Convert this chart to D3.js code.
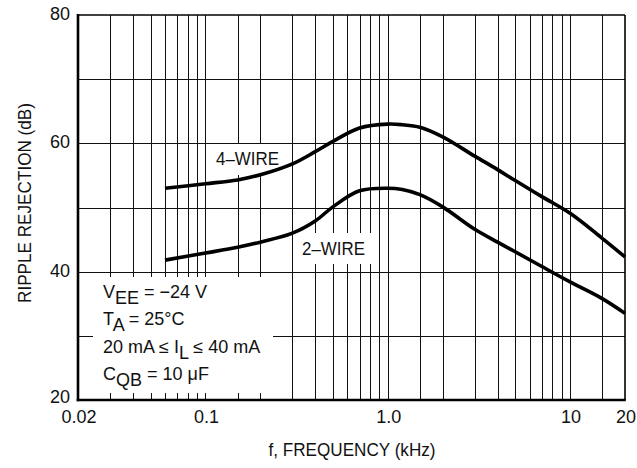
<html>
<head>
  <meta charset="utf-8">
  <style type="text/css">
    body { margin: 0; background: #fff; }
    text { font-family: "Liberation Sans", Arial, sans-serif; font-size: 18px; fill: #111; }
    .grid line { stroke: #111; stroke-width: 1; shape-rendering: crispEdges; }
    .curve { fill: none; stroke: #000; stroke-width: 3.6; }
  </style>
</head>
<body>
<script src="https://d3js.org/d3.v7.min.js"></script>
<script>
  // data
  var freqs4 = [0.06, 0.1, 0.15, 0.2, 0.3, 0.4, 0.5, 0.7, 1.0, 1.2, 1.5, 2, 3, 4, 5, 7, 10, 15, 20];
  var wire4  = [53.0, 53.7, 54.3, 55.1, 56.8, 58.7, 60.3, 62.4, 63.0, 62.9, 62.5, 61.0, 58.0, 55.9, 54.2, 51.7, 49.1, 45.2, 42.3];
  var freqs2 = [0.06, 0.1, 0.15, 0.2, 0.3, 0.4, 0.5, 0.7, 1.0, 1.2, 1.5, 2, 3, 4, 5, 7, 10, 15, 20];
  var wire2  = [41.8, 42.9, 43.8, 44.6, 46.0, 47.9, 50.1, 52.6, 53.0, 52.8, 52.0, 50.1, 46.6, 44.6, 43.1, 40.8, 38.4, 35.8, 33.5];

  var xGrid = [0.03, 0.04, 0.05, 0.06, 0.07, 0.08, 0.09, 0.1, 0.15, 0.2, 0.3, 0.4, 0.5, 0.6, 0.7, 0.8, 0.9,
               1, 1.5, 2, 3, 4, 5, 6, 7, 8, 9, 10, 15];
  var xTicks = [0.02, 0.1, 1, 10, 20];
  var xTickLabels = ["0.02", "0.1", "1.0", "10", "20"];
  var yGrid = [30, 40, 50, 60, 70];
  var yTicks = [20, 40, 60, 80];

  var margin = { top: 15, right: 12, bottom: 68, left: 78 }
    , width = 637 - margin.left - margin.right
    , height = 468 - margin.top - margin.bottom;

  var xScale = d3.scaleLog().domain([0.02, 20]).range([0, width]);
  var yScale = d3.scaleLinear().domain([20, 80]).range([height, 0]);

  var svg = d3.select("body").append("svg")
    .attr("width", 637)
    .attr("height", 468)
    .append("g")
    .attr("transform", "translate(" + margin.left + "," + margin.top + ")");

  // grid
  var grid = svg.append("g").attr("class", "grid");
  grid.selectAll(".vx").data(xGrid).enter().append("line")
    .attr("x1", function (d) { return Math.round(xScale(d)) + 0.5; })
    .attr("x2", function (d) { return Math.round(xScale(d)) + 0.5; })
    .attr("y1", 0).attr("y2", height);
  grid.selectAll(".hy").data(yGrid).enter().append("line")
    .attr("x1", 0).attr("x2", width)
    .attr("y1", function (d) { return Math.round(yScale(d)) + 0.5; })
    .attr("y2", function (d) { return Math.round(yScale(d)) + 0.5; });

  // white label boxes that hide the grid
  svg.append("rect").attr("x", 130).attr("y", 129).attr("width", 82).attr("height", 31).attr("fill", "#fff");
  svg.append("rect").attr("x", 219).attr("y", 218).attr("width", 75).attr("height", 31).attr("fill", "#fff");
  svg.append("rect").attr("x", 15).attr("y", 262).attr("width", 180).attr("height", 116).attr("fill", "#fff");

  // frame
  svg.append("line").attr("x1", 0).attr("x2", width).attr("y1", 0).attr("y2", 0)
    .attr("stroke", "#000").attr("stroke-width", 1.6);
  svg.append("line").attr("x1", width).attr("x2", width).attr("y1", 0).attr("y2", height)
    .attr("stroke", "#000").attr("stroke-width", 1.6);
  svg.append("line").attr("x1", 0).attr("x2", 0).attr("y1", -1).attr("y2", height + 1.3)
    .attr("stroke", "#000").attr("stroke-width", 2.6);
  svg.append("line").attr("x1", -1.3).attr("x2", width + 0.8).attr("y1", height).attr("y2", height)
    .attr("stroke", "#000").attr("stroke-width", 2.6);

  // curves
  var line = d3.line()
    .x(function (d) { return xScale(d.f); })
    .y(function (d) { return yScale(d.y); })
    .curve(d3.curveCatmullRom.alpha(0.5));

  var data4 = freqs4.map(function (f, i) { return { f: f, y: wire4[i] }; });
  var data2 = freqs2.map(function (f, i) { return { f: f, y: wire2[i] }; });
  svg.append("path").datum(data4).attr("class", "curve").attr("d", line);
  svg.append("path").datum(data2).attr("class", "curve").attr("d", line);

  // tick labels
  svg.selectAll(".xl").data(xTicks).enter().append("text")
    .attr("x", function (d) { return xScale(d) + 1; })
    .attr("y", height + 23)
    .attr("text-anchor", "middle")
    .text(function (d, i) { return xTickLabels[i]; });
  svg.selectAll(".yl").data(yTicks).enter().append("text")
    .attr("x", -8)
    .attr("y", function (d) { return Math.min(yScale(d) + 5, height + 3); })
    .attr("text-anchor", "end")
    .text(function (d) { return d; });

  // axis titles
  svg.append("text")
    .attr("x", width / 2 - 83)
    .attr("y", height + 56)
    .attr("textLength", 167)
    .attr("lengthAdjust", "spacingAndGlyphs")
    .text("f, FREQUENCY (kHz)");
  svg.append("text")
    .attr("transform", "translate(" + (31 - margin.left) + "," + (303 - margin.top) + ") rotate(-90)")
    .attr("textLength", 200)
    .attr("lengthAdjust", "spacingAndGlyphs")
    .text("RIPPLE REJECTION (dB)");

  // curve labels
  svg.append("text").attr("x", 138).attr("y", 150)
    .attr("textLength", 63).attr("lengthAdjust", "spacingAndGlyphs").text("4\u2013WIRE");
  svg.append("text").attr("x", 224).attr("y", 240)
    .attr("textLength", 63).attr("lengthAdjust", "spacingAndGlyphs").text("2\u2013WIRE");

  // conditions
  var notes = svg.append("g").attr("transform", "translate(25,0)");
  var t1 = notes.append("text").attr("y", 283);
  t1.append("tspan").text("V");
  t1.append("tspan").attr("dy", 6).text("EE");
  t1.append("tspan").attr("dy", -6).text(" = \u221224 V");
  var t2 = notes.append("text").attr("y", 310);
  t2.append("tspan").text("T");
  t2.append("tspan").attr("dy", 6).text("A");
  t2.append("tspan").attr("dy", -6).text(" = 25\u00B0C");
  var t3 = notes.append("text").attr("y", 338);
  t3.append("tspan").text("20 mA \u2264 I");
  t3.append("tspan").attr("dy", 6).text("L");
  t3.append("tspan").attr("dy", -6).text(" \u2264 40 mA");
  var t4 = notes.append("text").attr("y", 365);
  t4.append("tspan").text("C");
  t4.append("tspan").attr("dy", 6).text("QB");
  t4.append("tspan").attr("dy", -6).text(" = 10 \u03BCF");
</script>
</body>
</html>
